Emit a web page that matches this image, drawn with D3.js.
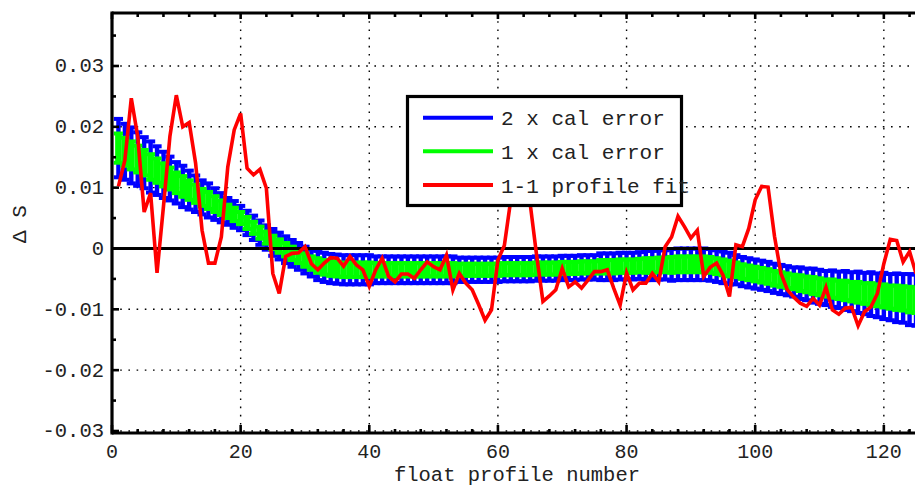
<!DOCTYPE html>
<html><head><meta charset="utf-8">
<script src="https://cdn.jsdelivr.net/npm/d3@7"></script>
<style>body{margin:0;background:#fff}svg{display:block}</style>
</head><body>
<svg id="chart" width="915" height="486"></svg>
<script>
// ---- data ----
const fitValues = [0.0102,0.0145,0.0247,0.0184,0.0060,0.0091,-0.0040,0.0069,0.0184,0.0252,
 0.0200,0.0207,0.0140,0.0030,-0.0024,-0.0024,0.0019,0.0134,0.0195,0.0222,
 0.0132,0.0121,0.0130,0.0099,-0.0041,-0.0074,-0.0013,-0.0008,-0.0007,0.0003,
 -0.0025,-0.0035,-0.0024,-0.0015,-0.0016,-0.0029,-0.0013,-0.0027,-0.0035,-0.0062,
 -0.0035,-0.0016,-0.0046,-0.0055,-0.0042,-0.0042,-0.0049,-0.0035,-0.0022,-0.0030,
 -0.0035,-0.0011,-0.0068,-0.0041,-0.0057,-0.0068,-0.0092,-0.0118,-0.0101,-0.0019,
 0.0005,0.0080,0.0170,0.0160,0.0075,-0.0010,-0.0087,-0.0078,-0.0068,-0.0033,
 -0.0063,-0.0055,-0.0065,-0.0052,-0.0038,-0.0038,-0.0035,-0.0065,-0.0093,-0.0040,
 -0.0068,-0.0057,-0.0057,-0.0041,-0.0055,0.0003,0.0019,0.0053,0.0036,0.0017,
 0.0030,-0.0046,-0.0031,-0.0024,-0.0044,-0.0079,0.0006,0.0003,0.0033,0.0080,
 0.0102,0.0101,0.0020,-0.0041,-0.0068,-0.0080,-0.0090,-0.0095,-0.0082,-0.0093,
 -0.0064,-0.0101,-0.0108,-0.0098,-0.0097,-0.0127,-0.0104,-0.0096,-0.0074,-0.0025,
 0.0015,0.0013,-0.0022,-0.0005,-0.0041];

const calCenter = [0.0165,0.0159,0.0153,0.0147,0.0141,0.0134,0.0128,0.0121,0.0115,0.0108,
 0.0102,0.0096,0.0090,0.0084,0.0079,0.0073,0.0067,0.0061,0.0056,0.0050,
 0.0042,0.0034,0.0026,0.0018,0.0010,0.0004,-0.0002,-0.0008,-0.0013,-0.0019,
 -0.0024,-0.0028,-0.0031,-0.0033,-0.0034,-0.0035,-0.0035,-0.0035,-0.0035,-0.0035,
 -0.0035,-0.0035,-0.0035,-0.0035,-0.0035,-0.0035,-0.0035,-0.0035,-0.0035,-0.0035,
 -0.0035,-0.0035,-0.0035,-0.0035,-0.0035,-0.0035,-0.0035,-0.0035,-0.0035,-0.0035,
 -0.0034,-0.0034,-0.0034,-0.0034,-0.0034,-0.0033,-0.0033,-0.0033,-0.0033,-0.0032,
 -0.0032,-0.0032,-0.0031,-0.0031,-0.0031,-0.0030,-0.0030,-0.0030,-0.0029,-0.0029,
 -0.0029,-0.0028,-0.0028,-0.0028,-0.0027,-0.0027,-0.0027,-0.0026,-0.0026,-0.0026,
 -0.0026,-0.0026,-0.0027,-0.0029,-0.0031,-0.0033,-0.0035,-0.0038,-0.0040,-0.0042,
 -0.0044,-0.0046,-0.0049,-0.0051,-0.0053,-0.0055,-0.0057,-0.0059,-0.0061,-0.0063,
 -0.0065,-0.0066,-0.0068,-0.0069,-0.0071,-0.0072,-0.0074,-0.0075,-0.0077,-0.0078,
 -0.0080,-0.0081,-0.0082,-0.0084,-0.0085];

const calError = [0.0024,0.0023,0.0023,0.0022,0.0021,0.0021,0.0020,0.0019,0.0018,0.0017,
 0.0017,0.0016,0.0015,0.0014,0.0014,0.0013,0.0012,0.0011,0.0011,0.0010,
 0.0010,0.0010,0.0010,0.0010,0.0011,0.0011,0.0011,0.0011,0.0011,0.0011,
 0.0011,0.0012,0.0012,0.0012,0.0012,0.0012,0.0012,0.0012,0.0012,0.0012,
 0.0011,0.0011,0.0011,0.0011,0.0011,0.0011,0.0011,0.0011,0.0011,0.0011,
 0.0011,0.0011,0.0011,0.0010,0.0010,0.0010,0.0010,0.0010,0.0010,0.0010,
 0.0010,0.0010,0.0010,0.0010,0.0010,0.0010,0.0010,0.0010,0.0010,0.0010,
 0.0010,0.0010,0.0010,0.0010,0.0010,0.0011,0.0011,0.0011,0.0011,0.0011,
 0.0011,0.0011,0.0012,0.0012,0.0012,0.0012,0.0013,0.0013,0.0013,0.0013,
 0.0013,0.0013,0.0013,0.0013,0.0013,0.0013,0.0012,0.0012,0.0012,0.0012,
 0.0012,0.0012,0.0012,0.0012,0.0012,0.0012,0.0013,0.0013,0.0014,0.0014,
 0.0014,0.0015,0.0015,0.0016,0.0016,0.0017,0.0017,0.0018,0.0018,0.0019,
 0.0019,0.0020,0.0020,0.0021,0.0021];

const xTicks = [0,20,40,60,80,100,120];
const yTicks = [-0.03,-0.02,-0.01,0,0.01,0.02,0.03];
const yTickLabels = ["-0.03","-0.02","-0.01","0","0.01","0.02","0.03"];
const legendLabels = ["2 x cal error","1 x cal error","1-1 profile fit"];
const legendColors = ["#0000ff","#00ff00","#ff0000"];
const xLabel = "float profile number";
const yLabel = "\u0394 S";

// ---- layout ----
const L = 112, R = 916, T = 13, B = 433;
const x = d3.scaleLinear().domain([0,125]).range([L,R]);
const y = d3.scaleLinear().domain([-0.03033,0.03871]).range([B,T]);
const FONT = "'Liberation Mono','Courier New',monospace";

const svg = d3.select("#chart");
svg.append("rect").attr("width",915).attr("height",486).attr("fill","#fff");
svg.append("defs").append("clipPath").attr("id","clip")
  .append("rect").attr("x",L).attr("y",T).attr("width",R-L).attr("height",B-T);

const plot = svg.append("g").attr("clip-path","url(#clip)");

// grid
const grid = plot.append("g").attr("stroke","#000").attr("stroke-width",1.4).attr("stroke-dasharray","1.6,6.6");
grid.selectAll("line.gx").data(xTicks.filter(d=>d>0)).join("line")
  .attr("x1",d=>x(d)).attr("x2",d=>x(d)).attr("y1",T).attr("y2",B);
grid.selectAll("line.gy").data(yTicks.filter(d=>d!==0)).join("line")
  .attr("x1",L).attr("x2",R).attr("y1",d=>y(d)).attr("y2",d=>y(d));

const bars = calCenter.map((c,i)=>({p:i+1,c:c,e:calError[i]}));
const capW = 4.6;

function drawErr(g, k, color, vw, cw){
  g.selectAll("line.v").data(bars).join("line").attr("class","v")
    .attr("x1",d=>x(d.p)).attr("x2",d=>x(d.p))
    .attr("y1",d=>y(d.c-k*d.e)).attr("y2",d=>y(d.c+k*d.e))
    .attr("stroke",color).attr("stroke-width",vw);
  g.selectAll("line.ct").data(bars).join("line").attr("class","ct")
    .attr("x1",d=>x(d.p)-capW).attr("x2",d=>x(d.p)+capW)
    .attr("y1",d=>y(d.c+k*d.e)).attr("y2",d=>y(d.c+k*d.e))
    .attr("stroke",color).attr("stroke-width",cw);
  g.selectAll("line.cb").data(bars).join("line").attr("class","cb")
    .attr("x1",d=>x(d.p)-capW).attr("x2",d=>x(d.p)+capW)
    .attr("y1",d=>y(d.c-k*d.e)).attr("y2",d=>y(d.c-k*d.e))
    .attr("stroke",color).attr("stroke-width",cw);
}
drawErr(plot.append("g"), 2, "#0000ff", 4.4, 4);
drawErr(plot.append("g"), 1, "#00ff00", 6.6, 4);

// zero line
plot.append("line").attr("x1",L).attr("x2",R).attr("y1",y(0)).attr("y2",y(0))
  .attr("stroke","#000").attr("stroke-width",3);

// red fit line
plot.append("path").datum(fitValues)
  .attr("d", d3.line().x((d,i)=>x(i+1)).y(d=>y(d)))
  .attr("fill","none").attr("stroke","#ff0000").attr("stroke-width",3.6)
  .attr("stroke-linejoin","miter");

// axes frame
const ax = svg.append("g").attr("stroke","#000");
ax.append("line").attr("x1",L).attr("x2",L).attr("y1",T-1.5).attr("y2",B+1.5).attr("stroke-width",3.2);
ax.append("line").attr("x1",L).attr("x2",R).attr("y1",T).attr("y2",T).attr("stroke-width",3.2);
ax.append("line").attr("x1",L).attr("x2",R).attr("y1",B).attr("y2",B).attr("stroke-width",3.2);

// ticks
const xMinor = d3.range(0,126,4).filter(v=>v%20!==0);
const yMinor = [-0.025,-0.015,-0.005,0.005,0.015,0.025,0.035];
ax.selectAll("line.xb").data(xTicks).join("line")
  .attr("x1",d=>x(d)).attr("x2",d=>x(d)).attr("y1",B).attr("y2",B-8).attr("stroke-width",2.6);
ax.selectAll("line.xt").data(xTicks).join("line")
  .attr("x1",d=>x(d)).attr("x2",d=>x(d)).attr("y1",T).attr("y2",T+6).attr("stroke-width",2.6);
ax.selectAll("line.xbm").data(xMinor).join("line")
  .attr("x1",d=>x(d)).attr("x2",d=>x(d)).attr("y1",B).attr("y2",B-4).attr("stroke-width",2.6);
ax.selectAll("line.xtm").data(xMinor).join("line")
  .attr("x1",d=>x(d)).attr("x2",d=>x(d)).attr("y1",T).attr("y2",T+4).attr("stroke-width",2.6);
ax.selectAll("line.yl").data(yTicks).join("line")
  .attr("x1",L).attr("x2",L+7).attr("y1",d=>y(d)).attr("y2",d=>y(d)).attr("stroke-width",2.6);
ax.selectAll("line.ylm").data(yMinor).join("line")
  .attr("x1",L).attr("x2",L+4).attr("y1",d=>y(d)).attr("y2",d=>y(d)).attr("stroke-width",2.6);

// tick labels
const tl = svg.append("g").attr("font-family",FONT).attr("fill","#222");
tl.selectAll("text.xl").data(xTicks).join("text")
  .attr("font-size",20)
  .attr("x",d=>x(d)).attr("y",457.5).attr("text-anchor","middle").text(d=>d);
tl.selectAll("text.yl").data(yTicks).join("text")
  .attr("font-size",20.5)
  .attr("x",104).attr("y",d=>y(d)+6.5).attr("text-anchor","end").text((d,i)=>yTickLabels[i]);

// axis labels
svg.append("text").attr("x",517).attr("y",481).attr("text-anchor","middle")
  .attr("font-family",FONT).attr("font-size",20.5).attr("fill","#222").text(xLabel);
svg.append("text").attr("transform","translate(26,224) rotate(-90)").attr("text-anchor","middle")
  .attr("font-family",FONT).attr("font-size",21).attr("fill","#222").text(yLabel);

// legend
const lg = svg.append("g");
lg.append("rect").attr("x",407.5).attr("y",96.5).attr("width",274).attr("height",109)
  .attr("fill","#fff").attr("stroke","#000").attr("stroke-width",3.2);
const rowsY = [117.8,151.3,185];
legendLabels.forEach((lab,i)=>{
  lg.append("line").attr("x1",423).attr("x2",493).attr("y1",rowsY[i]).attr("y2",rowsY[i])
    .attr("stroke",legendColors[i]).attr("stroke-width",4);
  lg.append("text").attr("x",501).attr("y",rowsY[i]+7.5)
    .attr("font-family",FONT).attr("font-size",21).attr("fill","#222").text(lab);
});
</script>
</body></html>
